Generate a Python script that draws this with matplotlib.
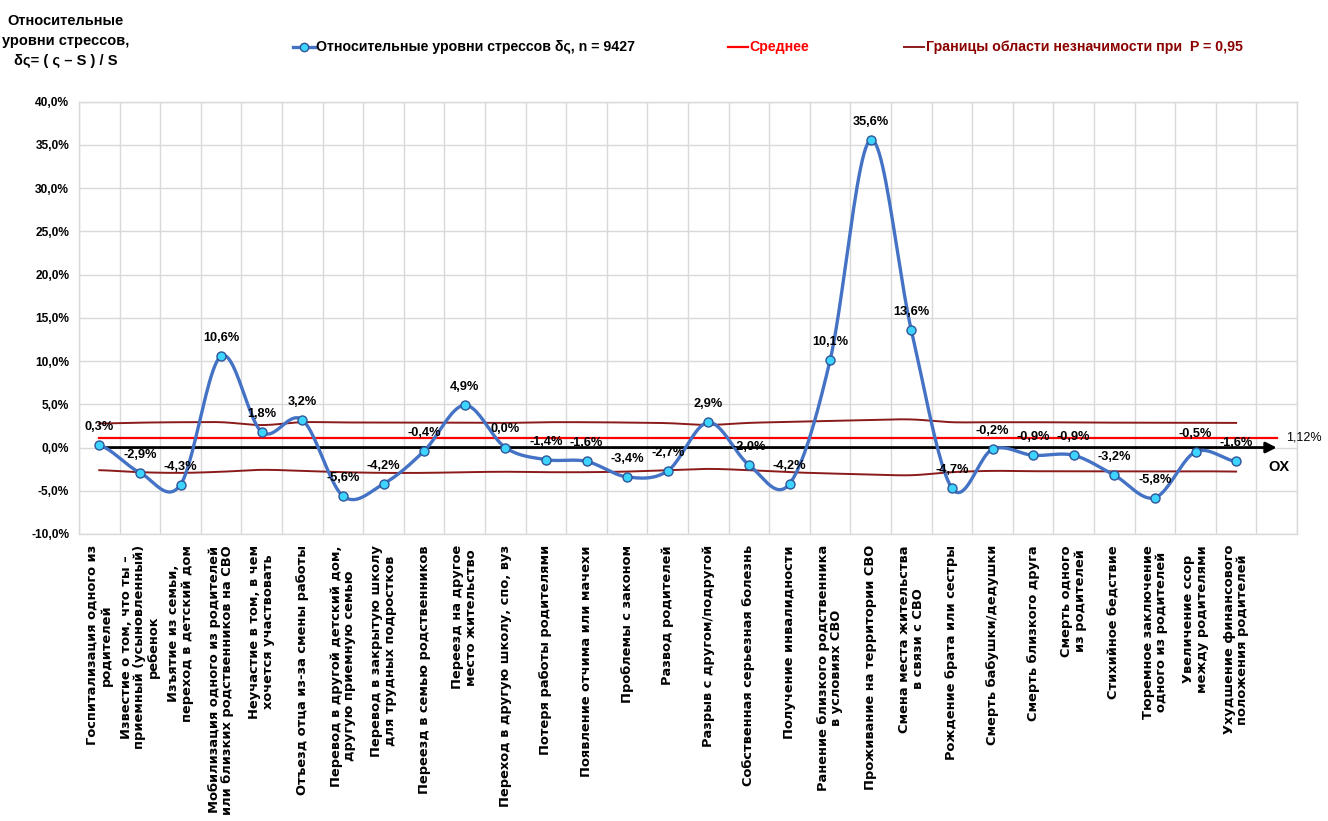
import numpy as np
import matplotlib
matplotlib.use('Agg')
import matplotlib.pyplot as plt
from matplotlib.lines import Line2D
from matplotlib.ticker import FuncFormatter

NARROW = ['Liberation Sans', 'DejaVu Sans']
LABEL_FONT = ['DejaVu Sans']

# data (percent)
categories = [
    "Госпитализация одного из\nродителей",
    "Известие о том, что ты –\nприемный (усыновленный)\nребенок",
    "Изъятие из семьи,\nпереход в детский дом",
    "Мобилизация одного из родителей\nили близких родственников на СВО",
    "Неучастие в том, в чем\nхочется участвовать",
    "Отъезд отца из-за смены работы",
    "Перевод в другой детский дом,\nдругую приемную семью",
    "Перевод в закрытую школу\nдля трудных подростков",
    "Переезд в семью родственников",
    "Переезд на другое\nместо жительство",
    "Переход в другую школу, спо, вуз",
    "Потеря работы родителями",
    "Появление отчима или мачехи",
    "Проблемы с законом",
    "Развод родителей",
    "Разрыв с другом/подругой",
    "Собственная серьезная болезнь",
    "Получение инвалидности",
    "Ранение близкого родственника\nв условиях СВО",
    "Проживание на территории СВО",
    "Смена места жительства\nв связи с СВО",
    "Рождение брата или сестры",
    "Смерть бабушки/дедушки",
    "Смерть близкого друга",
    "Смерть одного\nиз родителей",
    "Стихийное бедствие",
    "Тюремное заключение\nодного из родителей",
    "Увеличение ссор\nмежду родителями",
    "Ухудшение финансового\nположения родителей",
    "",
]
stress = [0.3, -2.9, -4.3, 10.6, 1.8, 3.2, -5.6, -4.2, -0.4, 4.9, 0.0, -1.4, -1.6, -3.4, -2.7,
          2.9, -2.0, -4.2, 10.1, 35.6, 13.6, -4.7, -0.2, -0.9, -0.9, -3.2, -5.8, -0.5, -1.6]
upper = [2.78, 2.88, 2.93, 2.93, 2.6, 2.93, 2.9, 2.9, 2.9, 2.88, 2.85, 2.93, 2.93, 2.89, 2.82,
         2.62, 2.85, 2.97, 3.08, 3.2, 3.25, 2.93, 2.93, 2.93, 2.9, 2.88, 2.88, 2.87, 2.85]
lower = [-2.62, -2.85, -2.93, -2.8, -2.58, -2.7, -2.85, -2.93, -2.93, -2.85, -2.8, -2.85, -2.85,
         -2.78, -2.62, -2.47, -2.62, -2.85, -3.0, -3.12, -3.2, -2.85, -2.7, -2.74, -2.74, -2.76,
         -2.76, -2.74, -2.78]
mean_value = 1.12
y_ticks = [-10, -5, 0, 5, 10, 15, 20, 25, 30, 35, 40]


def smooth(ys, n=24):
    """Catmull-Rom through evenly spaced points (like Excel smoothed line)"""
    ys = np.asarray(ys, dtype=float)
    p = np.concatenate([[ys[0]], ys, [ys[-1]]])
    xs_out, ys_out = [], []
    t = np.linspace(0, 1, n, endpoint=False)
    for i in range(len(ys) - 1):
        p0, p1, p2, p3 = p[i], p[i + 1], p[i + 2], p[i + 3]
        m1 = (p2 - p0) / 2
        m2 = (p3 - p1) / 2
        h00 = 2 * t**3 - 3 * t**2 + 1
        h10 = t**3 - 2 * t**2 + t
        h01 = -2 * t**3 + 3 * t**2
        h11 = t**3 - t**2
        xs_out.append(i + t)
        ys_out.append(h00 * p1 + h10 * m1 + h01 * p2 + h11 * m2)
    xs_out.append([len(ys) - 1])
    ys_out.append([ys[-1]])
    return np.concatenate(xs_out), np.concatenate(ys_out)


W, H = 1328, 821
fig = plt.figure(figsize=(W / 100, H / 100), dpi=100)
ax = fig.add_axes([79 / W, 1 - 534 / H, (1297 - 79) / W, (534 - 101.7) / H])

n_cat = len(categories)
x = np.arange(len(stress))

ax.set_xlim(-0.5, n_cat - 0.5)
ax.set_ylim(-10, 40)

# grid on category boundaries
ax.set_xticks(np.arange(n_cat + 1) - 0.5, minor=True)
ax.grid(True, which='minor', axis='x', color='#D9D9D9', linewidth=1)
ax.set_yticks(y_ticks)
ax.grid(True, which='major', axis='y', color='#D9D9D9', linewidth=1)
ax.set_axisbelow(True)
for s in ax.spines.values():
    s.set_color('#D9D9D9')
    s.set_linewidth(1)

ax.yaxis.set_major_formatter(FuncFormatter(lambda v, _: f'{v:.1f}%'.replace('.', ',')))
ax.tick_params(axis='y', length=0, pad=7, labelsize=8.6)
for lab in ax.get_yticklabels():
    lab.set_family(NARROW)
    lab.set_fontweight('bold')

ax.set_xticks(np.arange(n_cat))
ax.set_xticklabels(categories, rotation=90, ha='center', va='top', multialignment='center',
                   fontsize=9.4, fontweight='bold', family=LABEL_FONT, linespacing=1.05)
ax.tick_params(axis='x', which='both', length=0, pad=8)

# significance bounds
bx, by = smooth(upper)
ax.plot(bx, by, color='#8B1A1A', linewidth=1.4, zorder=3)
bx, by = smooth(lower)
ax.plot(bx, by, color='#8B1A1A', linewidth=1.4, zorder=3)

# mean line
ax.plot(np.arange(n_cat), [mean_value] * n_cat, color='#FF0000', linewidth=1.6, zorder=3)
ax.text(n_cat - 1 + 0.22, mean_value, '1,12%', ha='left', va='center', fontsize=9,
        family=NARROW, clip_on=False)

# OX axis arrow
ax.annotate('', xy=(n_cat - 1, 0), xytext=(0, 0),
            arrowprops=dict(arrowstyle='-|>', color='black', lw=2, mutation_scale=16,
                            shrinkA=0, shrinkB=0), zorder=4)
ax.text(n_cat - 1 + 0.05, -2.3, 'OX', ha='center', va='center', fontsize=10.5,
        fontweight='bold', family=NARROW)

# main series
sx, sy = smooth(stress)
ax.plot(sx, sy, color='#4472C4', linewidth=2.4, zorder=5, solid_capstyle='round')
ax.plot(x, stress, 'o', markersize=6.5, markerfacecolor='#3DD5FF',
        markeredgecolor='#2F5597', markeredgewidth=1, zorder=6)

for xi, v in zip(x, stress):
    ax.annotate(f'{v:.1f}%'.replace('.', ','), (xi, v), xytext=(0, 13),
                textcoords='offset points', ha='center', va='center', fontsize=9.2,
                fontweight='bold', family=NARROW, zorder=7)

# y axis title
fig.text(66 / W, 1 - 41 / H, 'Относительные\nуровни стрессов,\nδς= ( ς – S ) / S',
         ha='center', va='center', multialignment='center', fontsize=10.5,
         fontweight='bold', family=NARROW, linespacing=1.55)

# legend, drawn by hand
ly = 1 - 47 / H
fig.add_artist(Line2D([293 / W, 315 / W], [ly, ly], transform=fig.transFigure,
                      color='#4472C4', linewidth=2.4))
fig.add_artist(Line2D([304 / W], [ly], transform=fig.transFigure, marker='o',
                      markersize=6, markerfacecolor='#3DD5FF', markeredgecolor='#2F5597'))
fig.text(316 / W, ly, 'Относительные уровни стрессов δς, n = 9427', ha='left', va='center',
         fontsize=10.2, fontweight='bold', family=NARROW)

fig.add_artist(Line2D([728 / W, 748 / W], [ly, ly], transform=fig.transFigure,
                      color='#FF0000', linewidth=1.6))
fig.text(749 / W, ly, 'Среднее', ha='left', va='center', fontsize=10.2,
         fontweight='bold', family=NARROW, color='#FF0000')

fig.add_artist(Line2D([904 / W, 924 / W], [ly, ly], transform=fig.transFigure,
                      color='#8B1A1A', linewidth=1.4))
fig.text(926 / W, ly, 'Границы области незначимости при  P = 0,95', ha='left', va='center',
         fontsize=10.2, fontweight='bold', family=NARROW, color='#8B0000')

fig.savefig('out.png', dpi=100, facecolor='white')
